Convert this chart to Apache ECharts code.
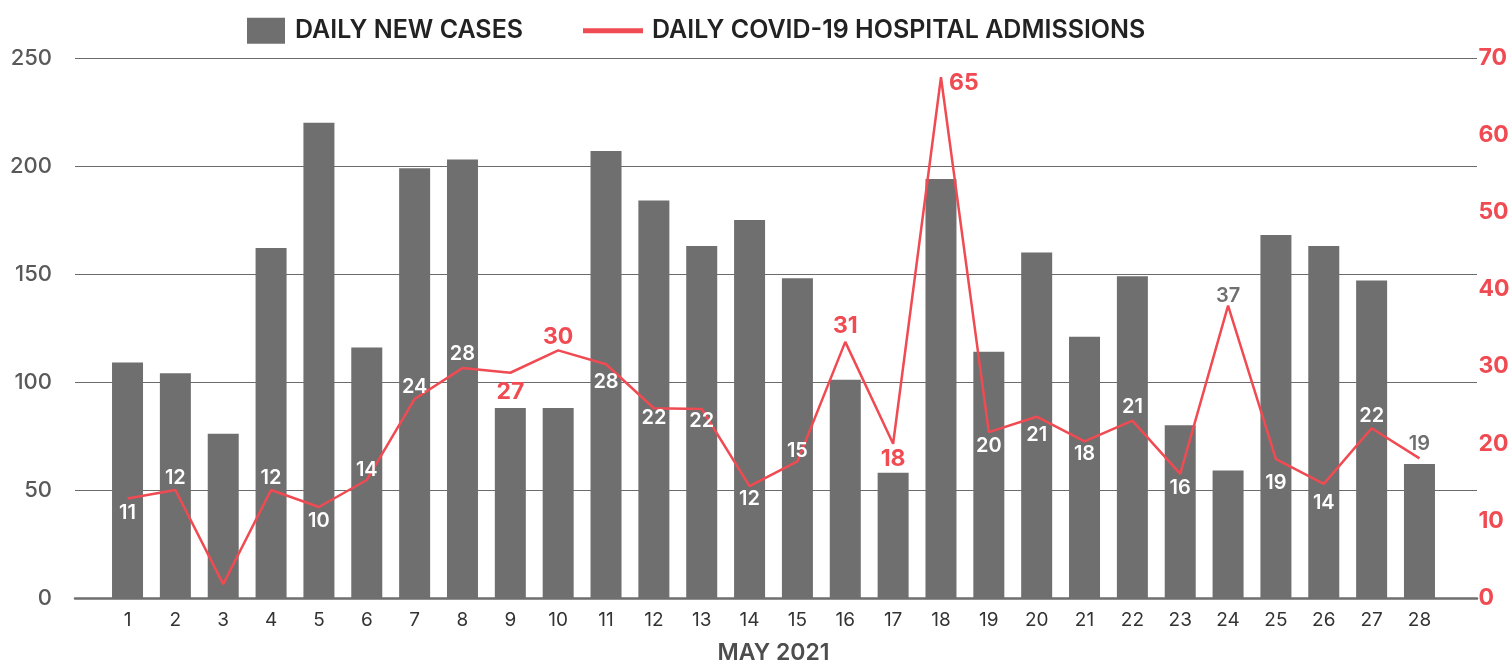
<!DOCTYPE html>
<html>
<head>
<meta charset="utf-8">
<script src="https://cdn.jsdelivr.net/npm/echarts@6/dist/echarts.min.js"></script>
<style>
  html, body { margin: 0; padding: 0; background: #fff; }
  #chart { width: 1512px; height: 665px; }
</style>
</head>
<body>
<div id="chart"></div>
<script>
// ---- data ----
const days = ['1','2','3','4','5','6','7','8','9','10','11','12','13','14','15','16','17','18','19','20','21','22','23','24','25','26','27','28'];
const newCases = [109, 104, 76, 162, 220, 116, 199, 203, 88, 88, 207, 184, 163, 175, 148, 101, 58, 194, 114, 160, 121, 149, 80, 59, 168, 163, 147, 62];
const admissions = [12.9, 14.0, 1.8, 14.0, 11.8, 15.3, 25.8, 29.8, 29.2, 32.1, 30.3, 24.6, 24.5, 14.5, 17.7, 33.2, 20.0, 67.5, 21.5, 23.5, 20.3, 23.0, 16.1, 37.9, 18.0, 14.8, 22.0, 18.1];
const admissionLabels = [11, 12, null, 12, 10, 14, 24, 28, 27, 30, 28, 22, 22, 12, 15, 31, 18, 65, 20, 21, 18, 21, 16, 37, 19, 14, 22, 19];
const leftTicks = [0, 50, 100, 150, 200, 250];
const rightTicks = [0, 10, 20, 30, 40, 50, 60, 70];
const xAxisTitle = 'MAY 2021';
const casesName = 'DAILY NEW CASES';
const admissionsName = 'DAILY COVID-19 HOSPITAL ADMISSIONS';

// ---- label styling (not data) ----
// w = white, r = red highlight, g = gray
const labelKind = ['w','w','w','w','w','w','w','w','r','r','w','w','w','w','w','r','r','r','w','w','w','w','w','g','w','w','w','g'];
const labelPos  = ['bottom','top','top','top','bottom','top','top','top','bottom','top','bottom','bottom','bottom','bottom','top','top','bottom','right','bottom','bottom','bottom','top','bottom','top','bottom','bottom','top','top'];
const labelDist = [4,2,2,2,4,0,2,4,8,2,8,0,2,3,0,4,4,8,4,8,3,4,4,0,14,9,2,4];

const RED = '#f04a52';
const BAR = '#6f6f6f';
const FONT = 'Inter, "Open Sans", sans-serif';

const kindStyle = {
  w: { color: '#ffffff', fontSize: 20, fontWeight: 600 },
  r: { color: RED, fontSize: 23, fontWeight: 700 },
  g: { color: '#6f6f6f', fontSize: 20, fontWeight: 600 }
};

const lineData = admissions.map((v, i) => {
  const lbl = admissionLabels[i];
  const ks = kindStyle[labelKind[i]];
  return {
    value: v,
    label: {
      show: lbl !== null,
      position: labelPos[i],
      distance: labelDist[i],
      offset: labelPos[i] === 'right' ? [0, 6] : [0, 0],
      formatter: () => (lbl === null ? '' : String(lbl)),
      color: ks.color,
      fontSize: ks.fontSize,
      fontWeight: ks.fontWeight,
      fontFamily: FONT
    }
  };
});

const chart = echarts.init(document.getElementById('chart'), null, { renderer: 'canvas' });

const legendText = { color: '#222', fontSize: 25, fontWeight: 600, fontFamily: FONT, lineHeight: 26 };

const option = {
  backgroundColor: '#ffffff',
  animation: false,
  textStyle: { fontFamily: FONT },
  legend: [
    {
      data: [{ name: casesName, icon: 'rect' }],
      left: 242, top: 12.7,
      itemWidth: 38, itemHeight: 26,
      textStyle: Object.assign({ padding: [0, 0, 0, 5] }, legendText)
    },
    {
      data: [{ name: admissionsName, icon: 'rect' }],
      left: 578, top: 12.7,
      itemWidth: 60, itemHeight: 5,
      textStyle: Object.assign({ padding: [0, 0, 0, 4] }, legendText)
    }
  ],
  grid: [
    { left: 75, right: 35, top: 58, bottom: 67, outerBoundsMode: 'none', containLabel: false },
    { left: 103.6, right: 68.6, top: 58, bottom: 67, outerBoundsMode: 'none', containLabel: false }
  ],
  xAxis: [
    {
      type: 'value', gridIndex: 0, min: 0, max: 1,
      axisLine: { show: true, lineStyle: { color: '#6f6f6f', width: 2.5 } },
      axisTick: { show: false }, axisLabel: { show: false }, splitLine: { show: false }
    },
    {
      type: 'category', gridIndex: 1, data: days,
      axisLine: { show: false }, axisTick: { show: false },
      axisLabel: { color: '#333', fontSize: 19, margin: 13, fontFamily: FONT },
      name: xAxisTitle, nameLocation: 'middle', nameGap: 44,
      nameTextStyle: { color: '#4d4d4d', fontSize: 23, fontWeight: 600, fontFamily: FONT }
    }
  ],
  yAxis: [
    {
      type: 'value', gridIndex: 0, min: leftTicks[0], max: leftTicks[leftTicks.length - 1], interval: leftTicks[1] - leftTicks[0],
      axisLine: { show: false }, axisTick: { show: false },
      axisLabel: { color: '#595959', fontSize: 22, fontWeight: 500, margin: 23, fontFamily: FONT },
      splitLine: { show: true, lineStyle: { color: '#6b6b6b', width: 1.2 } }
    },
    {
      type: 'value', gridIndex: 1, min: leftTicks[0], max: leftTicks[leftTicks.length - 1], interval: leftTicks[1] - leftTicks[0],
      show: false
    },
    {
      type: 'value', gridIndex: 1, position: 'right', min: rightTicks[0], max: rightTicks[rightTicks.length - 1], interval: rightTicks[1] - rightTicks[0],
      axisLine: { show: false }, axisTick: { show: false }, splitLine: { show: false },
      axisLabel: { color: RED, fontSize: 23, fontWeight: 700, margin: 35, fontFamily: FONT }
    }
  ],
  series: [
    {
      name: casesName, type: 'bar', xAxisIndex: 1, yAxisIndex: 1,
      data: newCases, barWidth: 31,
      itemStyle: { color: BAR }
    },
    {
      name: admissionsName, type: 'line', xAxisIndex: 1, yAxisIndex: 2,
      data: lineData,
      symbol: 'circle', symbolSize: 0, showSymbol: true,
      lineStyle: { color: RED, width: 2.5 },
      itemStyle: { color: RED },
      z: 5
    }
  ]
};

chart.setOption(option);
</script>
</body>
</html>
